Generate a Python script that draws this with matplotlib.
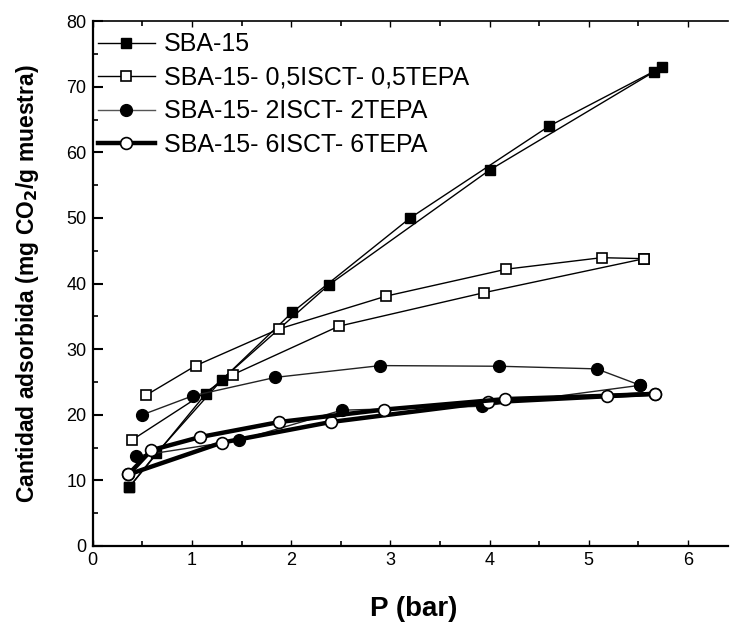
import numpy as np
import matplotlib
matplotlib.use('Agg')
import matplotlib.pyplot as plt
from matplotlib.lines import Line2D

plt.rcParams['font.family'] = ['Liberation Sans', 'DejaVu Sans']

# SBA-15 (filled squares)
sba_ads_x = [0.37, 0.64, 1.30, 2.01, 3.20, 4.60, 5.74]
sba_ads_y = [9.0, 14.1, 25.3, 35.6, 50.0, 64.0, 73.0]
sba_des_x = [5.66, 4.00, 2.38, 1.14, 0.37]
sba_des_y = [72.3, 57.3, 39.8, 23.2, 9.0]

# SBA-15- 0,5ISCT- 0,5TEPA (open squares)
s05_ads_x = [0.40, 1.41, 2.48, 3.94, 5.56]
s05_ads_y = [16.2, 26.1, 33.5, 38.6, 43.8]
s05_des_x = [5.56, 5.13, 4.17, 2.96, 1.88, 1.04, 0.54]
s05_des_y = [43.8, 43.95, 42.2, 38.1, 33.1, 27.5, 23.0]

# SBA-15- 2ISCT- 2TEPA (filled circles)
s2_ads_x = [0.44, 1.47, 2.51, 3.92, 5.52]
s2_ads_y = [13.7, 16.1, 20.7, 21.3, 24.5]
s2_des_x = [5.52, 5.08, 4.10, 2.90, 1.84, 1.01, 0.50]
s2_des_y = [24.5, 27.0, 27.4, 27.5, 25.7, 22.9, 20.0]

# SBA-15- 6ISCT- 6TEPA (open circles)
s6_ads_x = [0.36, 1.30, 2.40, 3.98, 5.67]
s6_ads_y = [10.9, 15.75, 18.9, 21.9, 23.2]
s6_des_x = [5.67, 5.18, 4.16, 2.94, 1.88, 1.08, 0.59, 0.36]
s6_des_y = [23.2, 22.9, 22.4, 20.8, 18.9, 16.6, 14.6, 10.9]

labels = ['SBA-15', 'SBA-15- 0,5ISCT- 0,5TEPA', 'SBA-15- 2ISCT- 2TEPA', 'SBA-15- 6ISCT- 6TEPA']

fig = plt.figure(figsize=(7.3, 6.23), dpi=100)
ax = fig.add_axes([0.127, 0.1236, 0.8697, 0.8424])

ms = 7.5
thin = 1.0
# draw series
for xs, ys in [(sba_ads_x, sba_ads_y), (sba_des_x, sba_des_y)]:
    ax.plot(xs, ys, '-', color='black', lw=thin, marker='s', ms=ms, mfc='black', mec='black', zorder=3)
for xs, ys in [(s05_ads_x, s05_ads_y), (s05_des_x, s05_des_y)]:
    ax.plot(xs, ys, '-', color='black', lw=thin, marker='s', ms=ms, mfc='white', mec='black', mew=1.2, zorder=3)
for xs, ys in [(s2_ads_x, s2_ads_y), (s2_des_x, s2_des_y)]:
    ax.plot(xs, ys, '-', color='#222222', lw=thin, marker='o', ms=ms + 1, mfc='black', mec='black', zorder=3)
for xs, ys in [(s6_ads_x, s6_ads_y), (s6_des_x, s6_des_y)]:
    ax.plot(xs, ys, '-', color='black', lw=3.2, marker='o', ms=ms + 1, mfc='white', mec='black', mew=1.2, zorder=4)

handles = [
    Line2D([], [], color='black', lw=thin, marker='s', ms=ms, mfc='black', mec='black'),
    Line2D([], [], color='black', lw=thin, marker='s', ms=ms, mfc='white', mec='black', mew=1.2),
    Line2D([], [], color='#555555', lw=thin, marker='o', ms=ms + 1, mfc='black', mec='black'),
    Line2D([], [], color='black', lw=3.2, marker='o', ms=ms + 1, mfc='white', mec='black', mew=1.2),
]
ax.legend(handles, labels, loc='upper left', frameon=False, fontsize=18, handlelength=2.3,
          handletextpad=0.35, labelspacing=0.38, borderaxespad=0.0, borderpad=0.2,
          bbox_to_anchor=(0.0, 0.988))

ax.set_xlim(0, 6.4)
ax.set_ylim(0, 80)
ax.set_xticks(np.arange(0, 7, 1))
ax.set_xticks(np.arange(0, 6.5, 0.5), minor=True)
ax.set_yticks(np.arange(0, 90, 10))
ax.set_yticks(np.arange(0, 85, 5), minor=True)
ax.tick_params(axis='both', which='major', direction='out', length=7, width=1.5, labelsize=13, pad=4.5)
ax.tick_params(axis='both', which='minor', direction='out', length=3.5, width=1.2)
ax.tick_params(top=True, which='both', direction='in')
ax.tick_params(axis='x', which='major', top=True, length=4, width=1)
for s in ['left', 'bottom']:
    ax.spines[s].set_linewidth(1.6)
ax.spines['top'].set_linewidth(1.2)
ax.spines['right'].set_visible(False)

ax.set_xlabel('P (bar)', fontsize=20, fontweight='bold', labelpad=19)
ax.xaxis.set_label_coords(0.505, -0.095)
ax.set_ylabel('Cantidad adsorbida (mg CO$_\\mathbf{2}$/g muestra)', fontsize=16.5, fontweight='bold',
              labelpad=18)

plt.savefig('out.png', dpi=100)
